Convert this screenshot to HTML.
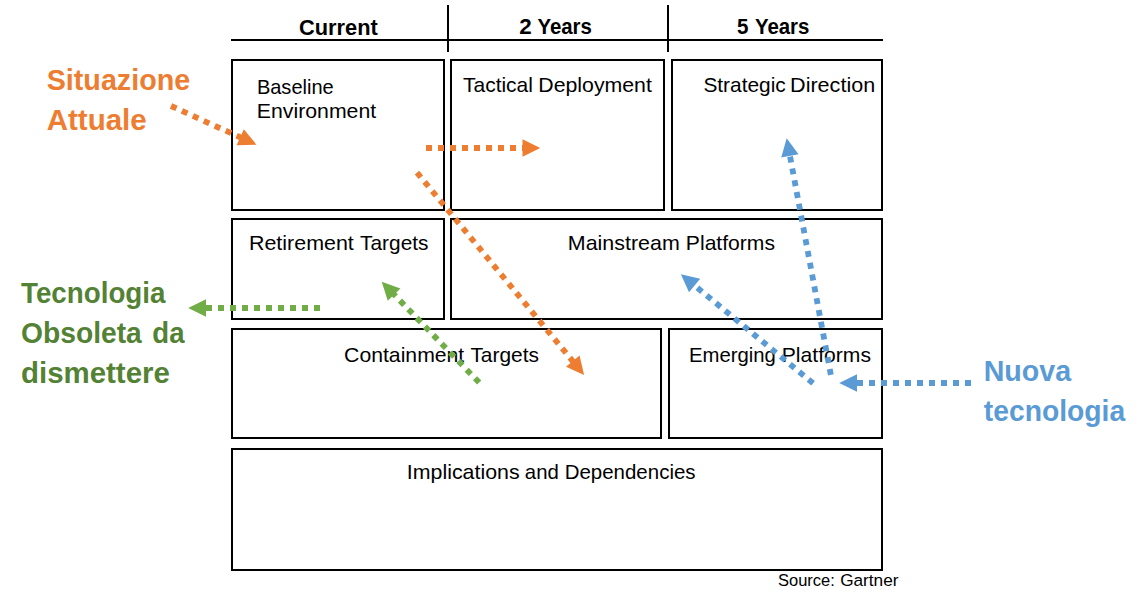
<!DOCTYPE html>
<html><head><meta charset="utf-8"><style>
html,body{margin:0;padding:0;background:#fff;}
svg{display:block;}
text{font-family:"Liberation Sans",sans-serif;}
</style></head><body>
<svg width="1148" height="603" viewBox="0 0 1148 603">
<rect x="232" y="60" width="212" height="150" fill="none" stroke="#000" stroke-width="2"/>
<rect x="451" y="60" width="213" height="150" fill="none" stroke="#000" stroke-width="2"/>
<rect x="672" y="60" width="210" height="150" fill="none" stroke="#000" stroke-width="2"/>
<rect x="232" y="219" width="212" height="100" fill="none" stroke="#000" stroke-width="2"/>
<rect x="451" y="219" width="431" height="100" fill="none" stroke="#000" stroke-width="2"/>
<rect x="232" y="329" width="429" height="109" fill="none" stroke="#000" stroke-width="2"/>
<rect x="669" y="329" width="213" height="109" fill="none" stroke="#000" stroke-width="2"/>
<rect x="232" y="449" width="650" height="121" fill="none" stroke="#000" stroke-width="2"/>
<rect x="231" y="39" width="652" height="2" fill="#000"/>
<rect x="447" y="5" width="2" height="47" fill="#000"/>
<rect x="667" y="5" width="2" height="47" fill="#000"/>
<text x="299.04" y="35" font-weight="bold" font-size="22.6" fill="#000" textLength="78.74" lengthAdjust="spacingAndGlyphs">Current</text>
<text x="519.21" y="34" font-weight="bold" font-size="22.6" fill="#000" textLength="12.46" lengthAdjust="spacingAndGlyphs">2</text>
<text x="537.4" y="34" font-weight="bold" font-size="22.6" fill="#000" textLength="54.49" lengthAdjust="spacingAndGlyphs">Years</text>
<text x="736.99" y="34" font-weight="bold" font-size="22.6" fill="#000" textLength="11.43" lengthAdjust="spacingAndGlyphs">5</text>
<text x="754.9" y="34" font-weight="bold" font-size="22.6" fill="#000" textLength="54.49" lengthAdjust="spacingAndGlyphs">Years</text>
<text x="256.89" y="94" font-weight="normal" font-size="21" fill="#000" textLength="76.84" lengthAdjust="spacingAndGlyphs">Baseline</text>
<text x="256.77" y="118" font-weight="normal" font-size="21" fill="#000" textLength="119.42" lengthAdjust="spacingAndGlyphs">Environment</text>
<text x="463" y="92" font-weight="normal" font-size="21" fill="#000" textLength="69.93" lengthAdjust="spacingAndGlyphs">Tactical</text>
<text x="538.27" y="92" font-weight="normal" font-size="21" fill="#000" textLength="113.59" lengthAdjust="spacingAndGlyphs">Deployment</text>
<text x="703.41" y="92" font-weight="normal" font-size="21" fill="#000" textLength="82.36" lengthAdjust="spacingAndGlyphs">Strategic</text>
<text x="790.05" y="92" font-weight="normal" font-size="21" fill="#000" textLength="85.15" lengthAdjust="spacingAndGlyphs">Direction</text>
<text x="248.96" y="250" font-weight="normal" font-size="21" fill="#000" textLength="104.84" lengthAdjust="spacingAndGlyphs">Retirement</text>
<text x="360.1" y="250" font-weight="normal" font-size="21" fill="#000" textLength="68.37" lengthAdjust="spacingAndGlyphs">Targets</text>
<text x="567.86" y="250" font-weight="normal" font-size="21" fill="#000" textLength="111.86" lengthAdjust="spacingAndGlyphs">Mainstream</text>
<text x="685.89" y="250" font-weight="normal" font-size="21" fill="#000" textLength="89.1" lengthAdjust="spacingAndGlyphs">Platforms</text>
<text x="344.09" y="362" font-weight="normal" font-size="21" fill="#000" textLength="120.19" lengthAdjust="spacingAndGlyphs">Containment</text>
<text x="470.4" y="362" font-weight="normal" font-size="21" fill="#000" textLength="68.57" lengthAdjust="spacingAndGlyphs">Targets</text>
<text x="688.97" y="362" font-weight="normal" font-size="21" fill="#000" textLength="86.89" lengthAdjust="spacingAndGlyphs">Emerging</text>
<text x="781.79" y="362" font-weight="normal" font-size="21" fill="#000" textLength="89.2" lengthAdjust="spacingAndGlyphs">Platforms</text>
<text x="406.87" y="479" font-weight="normal" font-size="21" fill="#000" textLength="112.74" lengthAdjust="spacingAndGlyphs">Implications</text>
<text x="524.83" y="479" font-weight="normal" font-size="21" fill="#000" textLength="33.98" lengthAdjust="spacingAndGlyphs">and</text>
<text x="564.65" y="479" font-weight="normal" font-size="21" fill="#000" textLength="130.91" lengthAdjust="spacingAndGlyphs">Dependencies</text>
<text x="778.02" y="586" font-weight="normal" font-size="16.8" fill="#000" textLength="56.86" lengthAdjust="spacingAndGlyphs">Source:</text>
<text x="840.18" y="586" font-weight="normal" font-size="16.8" fill="#000" textLength="58.33" lengthAdjust="spacingAndGlyphs">Gartner</text>
<text x="46.71" y="90" font-weight="bold" font-size="29" fill="#ED7D31" textLength="143.49" lengthAdjust="spacingAndGlyphs">Situazione</text>
<text x="46.68" y="130" font-weight="bold" font-size="29" fill="#ED7D31" textLength="100.02" lengthAdjust="spacingAndGlyphs">Attuale</text>
<text x="21" y="303" font-weight="bold" font-size="29" fill="#548235" textLength="144.43" lengthAdjust="spacingAndGlyphs">Tecnologia</text>
<text x="21.03" y="343" font-weight="bold" font-size="29" fill="#548235" textLength="120.79" lengthAdjust="spacingAndGlyphs">Obsoleta</text>
<text x="152.35" y="343" font-weight="bold" font-size="29" fill="#548235" textLength="32.2" lengthAdjust="spacingAndGlyphs">da</text>
<text x="20.98" y="383" font-weight="bold" font-size="29" fill="#548235" textLength="148.9" lengthAdjust="spacingAndGlyphs">dismettere</text>
<text x="983.63" y="381" font-weight="bold" font-size="29" fill="#5B9BD5" textLength="87.42" lengthAdjust="spacingAndGlyphs">Nuova</text>
<text x="983.8" y="421" font-weight="bold" font-size="29" fill="#5B9BD5" textLength="141.34" lengthAdjust="spacingAndGlyphs">tecnologia</text>
<line x1="171" y1="106" x2="240.67" y2="137.5" stroke="#ED7D31" stroke-width="5.8" stroke-dasharray="6 6"/>
<polygon points="256.43,144.63 236.58,145.31 243.84,129.28" fill="#ED7D31"/>
<line x1="426" y1="148" x2="523" y2="148" stroke="#ED7D31" stroke-width="5.8" stroke-dasharray="6 6"/>
<polygon points="540.3,148 522.5,156.8 522.5,139.2" fill="#ED7D31"/>
<line x1="417" y1="172.6" x2="573.09" y2="361.58" stroke="#ED7D31" stroke-width="5.8" stroke-dasharray="6 6"/>
<polygon points="584.11,374.92 565.99,366.8 579.56,355.59" fill="#ED7D31"/>
<line x1="320" y1="308" x2="205.5" y2="308" stroke="#70AD47" stroke-width="5.8" stroke-dasharray="6 6"/>
<polygon points="188.2,308 206,299.2 206,316.8" fill="#70AD47"/>
<line x1="479.2" y1="382.6" x2="393.76" y2="294.17" stroke="#70AD47" stroke-width="5.8" stroke-dasharray="6 6"/>
<polygon points="381.74,281.72 400.44,288.41 387.78,300.64" fill="#70AD47"/>
<line x1="971" y1="383" x2="856.5" y2="383" stroke="#5B9BD5" stroke-width="5.8" stroke-dasharray="6 6"/>
<polygon points="839.2,383 857,374.2 857,391.8" fill="#5B9BD5"/>
<line x1="813.1" y1="383.3" x2="694.23" y2="285.2" stroke="#5B9BD5" stroke-width="5.8" stroke-dasharray="6 6"/>
<polygon points="680.88,274.19 700.21,278.73 689.01,292.31" fill="#5B9BD5"/>
<line x1="830.85" y1="374.85" x2="789.83" y2="155.32" stroke="#5B9BD5" stroke-width="5.8" stroke-dasharray="6 6"/>
<polygon points="786.65,138.31 798.57,154.19 781.27,157.43" fill="#5B9BD5"/>
</svg>
</body></html>
